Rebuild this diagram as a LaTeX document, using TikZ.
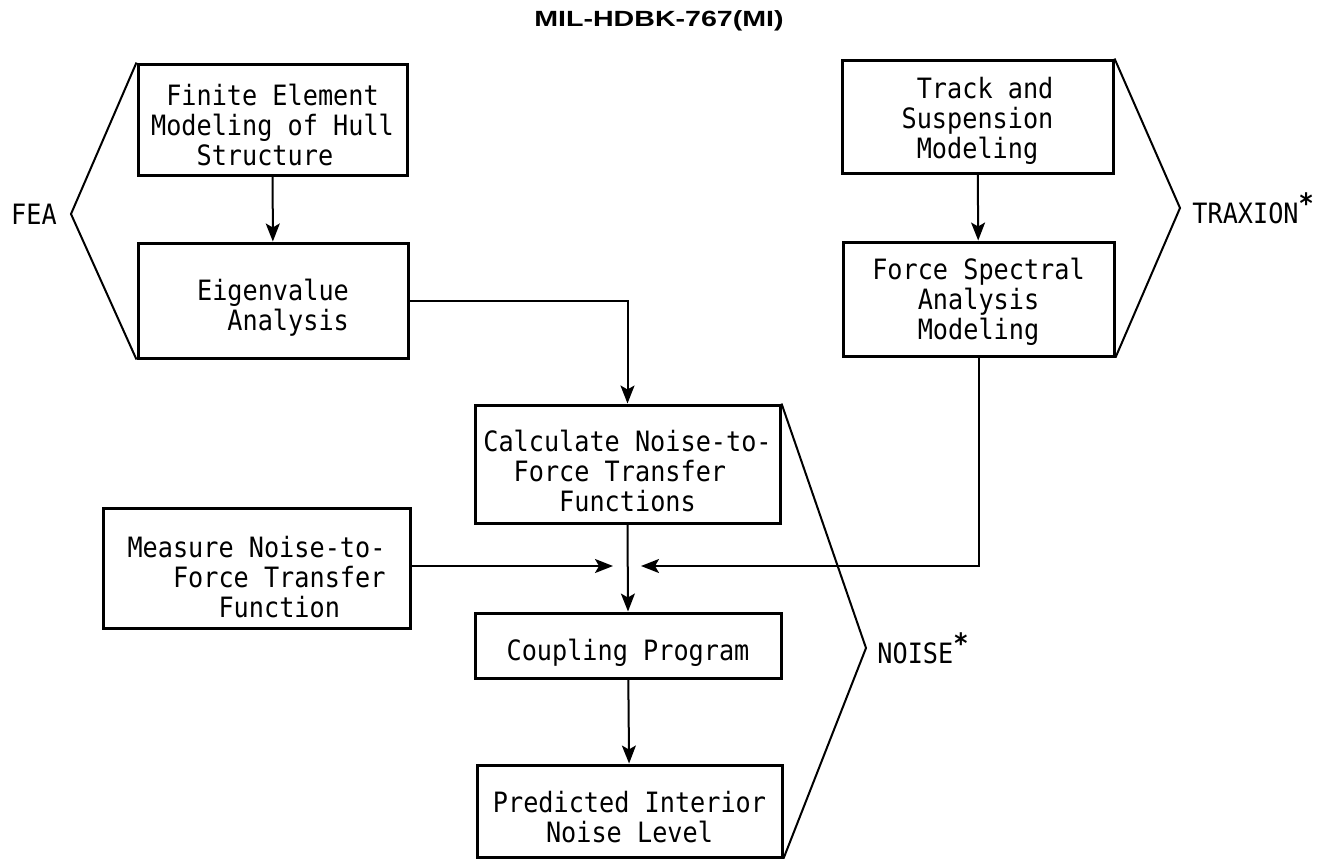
\documentclass[tikz,border=0pt]{standalone}
\usepackage{fontspec}
\newfontfamily\boxfont[FakeStretch=0.9]{DejaVu Sans Mono}
\newfontfamily\titlefont[FakeStretch=1.3]{Liberation Sans}
\usetikzlibrary{arrows.meta}
\tikzset{
  blk/.style={draw, line width=1.5pt, inner sep=0pt},
  txt/.style={align=center, inner sep=0pt,
    font=\boxfont\fontsize{14pt}{15pt}\selectfont},
  conn/.style={line width=1pt},
  arr/.style={conn, -{Stealth[length=9pt,width=7pt,inset=2pt]}},
  chev/.style={line width=1pt, line join=miter},
  lbl/.style={inner sep=0pt, font=\boxfont\fontsize{14pt}{15pt}\selectfont},
  ttl/.style={inner sep=0pt, font=\titlefont\bfseries\fontsize{11pt}{12pt}\selectfont}
}
\newcommand{\astk}{\raisebox{0.35em}{\textbf{*}}}
\newcommand{\ph}{\phantom{x}}
\begin{document}
\begin{tikzpicture}[x=0.5pt,y=-0.5pt]
\useasboundingbox (0,0) rectangle (1322,858);

\node[ttl] (title) at (659,21) {MIL-HDBK-767(MI)};

% boxes
\node[blk, minimum width=134.5pt, minimum height=55.5pt] (fem) at (272.5,119.5) {};
\node[blk, minimum width=135pt, minimum height=57.5pt] (eig) at (273,300.5) {};
\node[blk, minimum width=135.5pt, minimum height=56.5pt] (trk) at (977.5,116.5) {};
\node[blk, minimum width=135.5pt, minimum height=57pt] (frc) at (978.5,299) {};
\node[blk, minimum width=152.5pt, minimum height=59pt] (calc) at (627.5,464) {};
\node[blk, minimum width=153.5pt, minimum height=60pt] (meas) at (256.5,568) {};
\node[blk, minimum width=153pt, minimum height=32.5pt] (coup) at (628,645.5) {};
\node[blk, minimum width=152.5pt, minimum height=46pt] (pred) at (629.5,811) {};

% box texts
\node[txt] (fem-t) at ([yshift=-2.5pt]fem.center)
  {Finite Element\\Modeling of Hull\\Structure\ph};
\node[txt, align=right] (eig-t) at ([yshift=-3.5pt]eig.center)
  {Eigenvalue\\Analysis};
\node[txt] (trk-t) at ([yshift=-2pt]trk.center)
  {\ph Track and\\Suspension\\Modeling};
\node[txt] (frc-t) at ([yshift=-1.5pt]frc.center)
  {Force Spectral\\Analysis\\Modeling};
\node[txt] (calc-t) at ([yshift=-3.5pt]calc.center)
  {Calculate Noise-to-\\Force Transfer\ph\\Functions};
\node[txt, align=right] (meas-t) at ([yshift=-4.5pt]meas.center)
  {Measure Noise-to-\\Force Transfer\\Function\ph\ph\ph};
\node[txt] (coup-t) at ([yshift=-3.5pt]coup.center)
  {Coupling Program};
\node[txt] (pred-t) at ([yshift=-3pt]pred.center)
  {Predicted Interior\\Noise Level};

% connectors
\draw[arr] (fem) -- (eig);
\draw[arr] (trk) -- (frc);
\draw[arr] (eig.east) -| (calc.north);
\coordinate (jL) at (613,566);
\coordinate (jR) at (641,566);
\draw[arr] (meas.east |- jL) -- (jL);
\draw[arr] (frc.south) |- (jR);
\draw[arr] (calc.south) -- (coup.north);
\draw[arr] (coup) -- (pred);

% brackets
\coordinate (fea) at (71,214);
\draw[chev] (fem.north west) -- (fea) -- (eig.south west);
\node[lbl] (lfea) at (34,214) {FEA};

\coordinate (trx) at (1180,208);
\draw[chev] (trk.north east) -- (trx) -- (frc.south east);
\node[lbl, anchor=west] (ltrx) at (1192,208) {TRAXION\astk};

\coordinate (noi) at (866,648);
\draw[chev] (calc.north east) -- (noi) -- (pred.south east);
\node[lbl, anchor=west] (lnoi) at (877,648) {NOISE\astk};
\end{tikzpicture}
\end{document}
